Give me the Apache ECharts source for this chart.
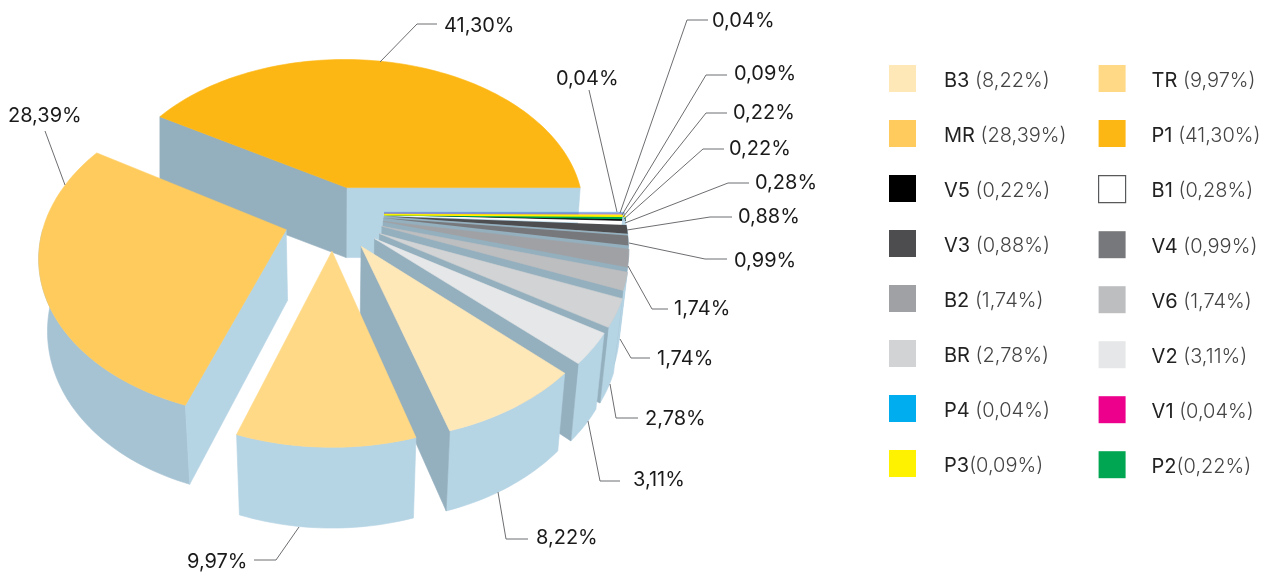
<!DOCTYPE html>
<html><head><meta charset="utf-8">
<style>html,body{margin:0;padding:0;background:#fff}#c{width:1269px;height:572px}</style>
<script src="https://cdn.jsdelivr.net/npm/echarts@6/dist/echarts.min.js"></script>
</head><body><div id="c"></div>
<script>
// Slices in counter-clockwise order starting from 3 o'clock
const codes  = ['P1','MR','TR','B3','V2','BR','V6','B2','V4','V3','B1','V5','P2','P3','V1','P4'];
const values = [41.30,28.39,9.97,8.22,3.11,2.78,1.74,1.74,0.99,0.88,0.28,0.22,0.22,0.09,0.04,0.04];
const colors = ['#FDB714','#FFCB5C','#FFD985','#FEE8B8','#E6E7E8','#D1D3D4','#BCBEC0','#A0A1A4','#77787B','#4D4D4F','#FFFFFF','#000000','#00A651','#FFF200','#EC008C','#00AEEF'];
// Legend columns
const legendLeft  = ['B3 (8,22%)','MR (28,39%)','V5 (0,22%)','V3 (0,88%)','B2 (1,74%)','BR (2,78%)','P4 (0,04%)','P3(0,09%)'];
const legendRight = ['TR (9,97%)','P1 (41,30%)','B1 (0,28%)','V4 (0,99%)','V6 (1,74%)','V2 (3,11%)','V1 (0,04%)','P2(0,22%)'];
// Back-to-front painting order
const paintOrder = ['P1','B1','V5','P2','P3','V1','P4','V3','V4','B2','V6','BR','V2','B3','TR','MR'];

// Projection of the tilted pie plane
const CX=332, CY=219, A=241, B=156, K=0.15, EXPLODE=0.2, H0=70, H1=60, SHRINK=0.03;
// small shifts of some slices in plane units
const shiftX={P1:0.008,TR:0.004,B3:0.013,V2:0.016,BR:0.017,V6:0.017,B2:0.017,V4:0.017,V3:0.017,B1:0.017,V5:0.017,P2:0.017,P3:0.017,V1:0.017,P4:0.017};
const lift={P1:0.015,V6:0.02,B2:0.03,V4:0.035,V3:0.035,B1:0.035,V5:0.035,P2:0.03,P3:0.03,V1:0.04,P4:0.04};
const hairline={B1:1,V5:0.8,P2:1.2,P3:1.6,V1:2,P4:2};
const faint={V1:0.35,P4:0.35};
const DARK='#94AFBE', LIGHT='#B5D4E4', MRWALL='#A6C3D3';

// Leader lines & label anchors: [text x, text y, polyline]
const labelLayout = {
  P1:[444,26,[[380,62],[417,24],[437,24]]],
  P4:[712,21,[[620,213],[687,20],[708,20]]],
  V1:[556,79,[[617,212],[589,90]]],
  P3:[734,74,[[622,215],[706,75],[727,75]]],
  P2:[733,113,[[623,217],[706,113],[727,113]]],
  V5:[729,149,[[624,219],[703,149],[724,149]]],
  B1:[755,183,[[625,223],[728,183],[749,183]]],
  V3:[738,217,[[627,230],[710,217],[732,217]]],
  V4:[734,261,[[629,243],[705,259],[727,259]]],
  B2:[674,309,[[628,266],[652,309],[668,309]]],
  V6:[657,359,[[620,339],[631,358],[650,358]]],
  BR:[645,419,[[610,384],[616,418],[638,418]]],
  V2:[633,480,[[588,421],[600,481],[620,481]]],
  B3:[536,538,[[498,492],[506,539],[528,539]]],
  TR:[187,562,[[299,527],[276,560],[254,560]]],
  MR:[8,116,[[65,185],[45,131]]]
};
const FONT='Inter';
const total=values.reduce((a,b)=>a+b,0);
const startAngles=[];{let s=0;values.forEach(v=>{startAngles.push(s);s+=v/total*360;});}

function project(X,Y){const w=1+K*Y;return [CX+A*X/w,CY-B*Y/w,w];}
function drop(p){const h=H0+H1*Math.max(0,1-p[2]);const f=Math.min(1,Math.max(0,(1.1-p[2])/0.1));
  return [CX+(p[0]-CX)*(1-SHRINK*f),p[1]+h];}
const rad=d=>d*Math.PI/180;

function sliceRender(idx){
  return function(){
    const code=codes[idx];
    const a0=startAngles[idx], a1=a0+values[idx]/total*360, mid=(a0+a1)/2;
    const l=lift[code]||0;
    const ox=EXPLODE*Math.cos(rad(mid))+(shiftX[code]||0), oy=EXPLODE*Math.sin(rad(mid))+l;
    const rim=a=>project(ox+Math.cos(rad(a)),oy+Math.sin(rad(a)));
    const apex=project(ox,oy);
    const n=Math.max(2,Math.ceil((a1-a0)/1.5));
    const arc=[];for(let i=0;i<=n;i++)arc.push(rim(a0+(a1-a0)*i/n));
    const xy=p=>[p[0],p[1]];
    const kids=[];
    const poly=(pts,fill,stroke)=>kids.push({type:'polygon',shape:{points:pts},
      style:stroke?{fill,stroke:fill,lineWidth:0.6}:{fill}});
    // outer wall, only the half that faces the viewer
    const wa0=Math.max(a0,180);
    if(a1>wa0){
      const m=Math.max(1,Math.ceil((a1-wa0)/1.5)),top=[];
      for(let i=0;i<=m;i++)top.push(rim(wa0+(a1-wa0)*i/m));
      poly(top.map(xy).concat(top.slice().reverse().map(drop)),code==='MR'?MRWALL:LIGHT,true);
    }
    // radial walls whose face is turned to the viewer
    const wall=(a,normal)=>{
      const s=Math.sin(rad(normal));
      if(s>=-0.02)return;
      const r=rim(a);
      const nn=(normal+360)%360;
      poly([xy(apex),xy(r),drop(r),drop(apex)],nn<269.9?DARK:LIGHT,true);
    };
    if(!hairline[code]){wall(a0,a0-90);wall(a1,a1+90);}
    // top face
    const face=[xy(apex)].concat(arc.map(xy));
    if(hairline[code]){
      kids.push({type:'polygon',shape:{points:face},style:{fill:colors[idx],stroke:colors[idx],
        lineWidth:hairline[code],opacity:faint[code]||1}});
    }else poly(face,colors[idx],values[idx]>1);
    return {type:'group',children:kids};
  };
}

function fmt(v){return v.toFixed(2).replace('.',',');}

const legendNameOf=code=>legendLeft.concat(legendRight).find(s=>s.indexOf(code)===0);
const series=paintOrder.map(code=>{
  const idx=codes.indexOf(code);
  return {type:'custom',name:legendNameOf(code),coordinateSystem:'none',
    data:[[values[idx]]],itemStyle:{color:colors[idx]},renderItem:sliceRender(idx),silent:true,animation:false};
});
series.push({type:'custom',coordinateSystem:'none',silent:true,animation:false,z:5,
  data:codes.map((c,i)=>[i]),
  renderItem:function(p,api){
    const i=api.value(0),c=labelLayout[codes[i]];
    return {type:'group',children:[
      {type:'polyline',shape:{points:c[2]},style:{fill:null,stroke:'#6D6E71',lineWidth:1}},
      {type:'text',style:{text:fmt(values[i])+'%',x:c[0],y:c[1],fill:'#1A1A1A',
        font:'400 20px '+FONT,textAlign:'left',textVerticalAlign:'middle'}}
    ]};
  }});

function legendData(list){return list.map(name=>{
  const idx=codes.findIndex(c=>name.indexOf(c)===0);
  const o={name,icon:'rect'};
  if(codes[idx]==='B1')o.itemStyle={color:'#FFFFFF',borderColor:'#58595B',borderWidth:1.2};
  else o.itemStyle={color:colors[idx],borderWidth:0};
  return o;});}
const legendBase=(gap)=>({orient:'vertical',top:65,itemWidth:27,itemHeight:27,itemGap:28,selectedMode:false,padding:0,
  formatter:n=>{const k=n.indexOf('(');return '{k|'+n.slice(0,k)+'}{v|'+n.slice(k)+'}';},
  textStyle:{padding:[4,0,0,gap],rich:{
    k:{fontFamily:FONT,fontSize:20,fontWeight:400,color:'#222'},
    v:{fontFamily:FONT,fontSize:20,fontWeight:300,color:'#444'}}}});

const chart=echarts.init(document.getElementById('c'),null,{renderer:'canvas',width:1269,height:572});
chart.setOption({animation:false,backgroundColor:'#fff',
  legend:[Object.assign(legendBase(23),{left:889,data:legendData(legendLeft)}),
          Object.assign(legendBase(21),{left:1098,data:legendData(legendRight)})],
  series});
</script></body></html>
